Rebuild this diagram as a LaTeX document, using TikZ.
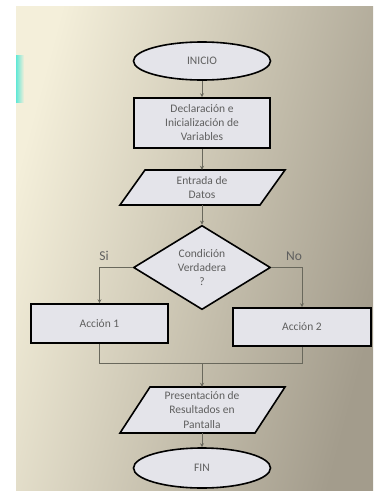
\documentclass[tikz,border=0pt]{standalone}
\usepackage{fontspec}
\setmainfont{Carlito}
\usetikzlibrary{shapes.geometric,arrows.meta}
\definecolor{shapefill}{RGB}{228,228,234}
\definecolor{linecol}{RGB}{105,104,92}
\definecolor{txtcol}{RGB}{95,95,95}
\definecolor{bgleft}{RGB}{244,239,218}
\definecolor{bgmid}{RGB}{224,218,198}
\definecolor{bgright}{RGB}{163,156,140}
\definecolor{cyanbar}{RGB}{96,232,214}
\tikzset{
  shapebox/.style={draw=black,line width=1.6pt,fill=shapefill,inner sep=0pt,
    font=\fontsize{11.5}{14}\selectfont,text=txtcol,align=center},
  termbox/.style={shapebox,ellipse,minimum width=137pt,minimum height=38pt},
  procbox/.style={shapebox,rectangle},
  decbox/.style={shapebox,diamond,minimum width=137pt,minimum height=75pt},
  iolabel/.style={inner sep=0pt,font=\fontsize{11.5}{14.5}\selectfont,text=txtcol,align=center},
  conn/.style={draw=linecol,line width=0.8pt},
  arr/.style={conn,-{Stealth[length=4pt,width=4pt]}},
  branchlabel/.style={font=\fontsize{13.5}{14}\selectfont,text=txtcol}
}
\begin{document}
\begin{tikzpicture}[x=1pt,y=-1pt]
\useasboundingbox (0,0) rectangle (373,491);
\fill[white] (0,0) rectangle (373,491);
\shade[left color=bgleft,middle color=bgmid,right color=bgright,shading angle=75] (16,6) rectangle (373,490);
\shade[left color=cyanbar,right color=bgleft] (16,55) rectangle (24,102);

% nodes
\node[termbox] (inicio) at (202,61) {INICIO};
\node[procbox,minimum width=136pt,minimum height=50pt] (decl) at (202,123) {Declaración e\\Inicialización de\\Variables};

% Entrada parallelogram
\draw[line width=1.6pt,fill=shapefill] (145,170) -- (285,170) -- (260,205) -- (120,205) -- cycle;
\node[iolabel,minimum height=35pt] (entrada) at (202,187.5) {Entrada de\\Datos};

\node[decbox] (cond) at (202,267.5) {Condición\\Verdadera\\?};

\node[procbox,minimum width=137pt,minimum height=39pt] (acc1) at (99.5,323.5) {Acción 1};
\node[procbox,minimum width=138pt,minimum height=38pt] (acc2) at (302,327) {Acción 2};

% Presentacion parallelogram
\draw[line width=1.6pt,fill=shapefill] (150,387) -- (285,387) -- (255,433) -- (120,433) -- cycle;
\node[iolabel,minimum height=46pt] (pres) at (202,410) {Presentación de\\Resultados en\\Pantalla};

\node[termbox,minimum height=40pt] (fin) at (202,468) {FIN};

\coordinate (merge) at (202,363);

% connectors
\draw[arr] (inicio) -- (decl);
\draw[arr] (decl) -- (entrada);
\draw[arr] (entrada) -- (cond);
\draw[arr] (cond.west) -| (acc1.north);
\draw[arr] (cond.east) -| (acc2.north);
\draw[conn] (acc1.south) |- (merge);
\draw[conn] (acc2.south) |- (merge);
\draw[arr] (merge) -- (pres);
\draw[arr] (pres) -- (fin);

% branch labels
\node[branchlabel] (si) at (104,256) {Si};
\node[branchlabel] (no) at (294,256) {No};
\end{tikzpicture}
\end{document}
